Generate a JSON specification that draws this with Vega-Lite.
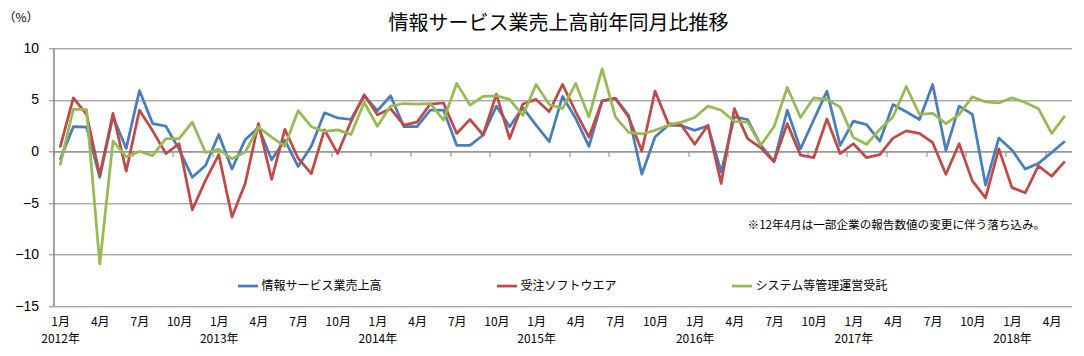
{
  "$schema": "https://vega.github.io/schema/vega-lite/v6.json",
  "width": 1018,
  "height": 258,
  "autosize": "none",
  "padding": {"left": 53.5, "top": 48.3, "right": 12.5, "bottom": 49.7},
  "background": "white",
  "title": {
    "text": "情報サービス業売上高前年同月比推移",
    "font": "Noto Sans CJK JP",
    "fontSize": 20,
    "fontWeight": "normal",
    "color": "#000000",
    "anchor": "middle",
    "dx": -4,
    "dy": 27
  },
  "config": {
    "view": {"stroke": null},
    "legend": {"padding": 0}
  },
  "data": {
    "values": [
      {"月":"2012-01","情報サービス業売上高":-0.8,"受注ソフトウエア":0.4,"システム等管理運営受託":-1.35},
      {"月":"2012-02","情報サービス業売上高":2.4,"受注ソフトウエア":5.2,"システム等管理運営受託":4.1},
      {"月":"2012-03","情報サービス業売上高":2.35,"受注ソフトウエア":3.6,"システム等管理運営受託":4.05},
      {"月":"2012-04","情報サービス業売上高":-2.5,"受注ソフトウエア":-2.3,"システム等管理運営受託":-10.9},
      {"月":"2012-05","情報サービス業売上高":3.4,"受注ソフトウエア":3.7,"システム等管理運営受託":1.0},
      {"月":"2012-06","情報サービス業売上高":0.3,"受注ソフトウエア":-1.9,"システム等管理運営受託":-0.5},
      {"月":"2012-07","情報サービス業売上高":5.9,"受注ソフトウエア":4.0,"システム等管理運営受託":0.0},
      {"月":"2012-08","情報サービス業売上高":2.7,"受注ソフトウエア":2.0,"システム等管理運営受託":-0.4},
      {"月":"2012-09","情報サービス業売上高":2.45,"受注ソフトウエア":-0.2,"システム等管理運営受託":1.25},
      {"月":"2012-10","情報サービス業売上高":0.2,"受注ソフトウエア":0.75,"システム等管理運営受託":1.25},
      {"月":"2012-11","情報サービス業売上高":-2.5,"受注ソフトウエア":-5.65,"システム等管理運営受託":2.85},
      {"月":"2012-12","情報サービス業売上高":-1.35,"受注ソフトウエア":-2.8,"システム等管理運営受託":-0.1},
      {"月":"2013-01","情報サービス業売上高":1.65,"受注ソフトウエア":-0.3,"システム等管理運営受託":0.2},
      {"月":"2013-02","情報サービス業売上高":-1.7,"受注ソフトウエア":-6.35,"システム等管理運営受託":-0.7},
      {"月":"2013-03","情報サービス業売上高":1.15,"受注ソフトウエア":-3.1,"システム等管理運営受託":-0.05},
      {"月":"2013-04","情報サービス業売上高":2.35,"受注ソフトウエア":2.7,"システム等管理運営受託":2.35},
      {"月":"2013-05","情報サービス業売上高":-0.8,"受注ソフトウエア":-2.7,"システム等管理運営受託":1.4},
      {"月":"2013-06","情報サービス業売上高":1.1,"受注ソフトウエア":2.15,"システム等管理運営受託":0.5},
      {"月":"2013-07","情報サービス業売上高":-1.45,"受注ソフトウエア":-0.65,"システム等管理運営受託":3.95},
      {"月":"2013-08","情報サービス業売上高":0.5,"受注ソフトウエア":-2.15,"システム等管理運営受託":2.4},
      {"月":"2013-09","情報サービス業売上高":3.75,"受注ソフトウエア":2.1,"システム等管理運営受託":1.95},
      {"月":"2013-10","情報サービス業売上高":3.25,"受注ソフトウエア":-0.2,"システム等管理運営受託":2.1},
      {"月":"2013-11","情報サービス業売上高":3.1,"受注ソフトウエア":2.9,"システム等管理運営受託":1.65},
      {"月":"2013-12","情報サービス業売上高":5.4,"受注ソフトウエア":5.5,"システム等管理運営受託":4.75},
      {"月":"2014-01","情報サービス業売上高":3.95,"受注ソフトウエア":3.55,"システム等管理運営受託":2.45},
      {"月":"2014-02","情報サービス業売上高":5.4,"受注ソフトウエア":4.15,"システム等管理運営受託":4.4},
      {"月":"2014-03","情報サービス業売上高":2.4,"受注ソフトウエア":2.55,"システム等管理運営受託":4.65},
      {"月":"2014-04","情報サービス業売上高":2.4,"受注ソフトウエア":2.85,"システム等管理運営受託":4.6},
      {"月":"2014-05","情報サービス業売上高":4.0,"受注ソフトウエア":4.6,"システム等管理運営受託":4.65},
      {"月":"2014-06","情報サービス業売上高":4.0,"受注ソフトウエア":4.7,"システム等管理運営受託":3.05},
      {"月":"2014-07","情報サービス業売上高":0.6,"受注ソフトウエア":1.75,"システム等管理運営受託":6.6},
      {"月":"2014-08","情報サービス業売上高":0.6,"受注ソフトウエア":3.1,"システム等管理運営受託":4.5},
      {"月":"2014-09","情報サービス業売上高":1.6,"受注ソフトウエア":1.6,"システム等管理運営受託":5.35},
      {"月":"2014-10","情報サービス業売上高":4.4,"受注ソフトウエア":5.55,"システム等管理運営受託":5.4},
      {"月":"2014-11","情報サービス業売上高":2.4,"受注ソフトウエア":1.25,"システム等管理運営受託":5.05},
      {"月":"2014-12","情報サービス業売上高":4.25,"受注ソフトウエア":4.6,"システム等管理運営受託":3.5},
      {"月":"2015-01","情報サービス業売上高":2.55,"受注ソフトウエア":5.05,"システム等管理運営受託":6.5},
      {"月":"2015-02","情報サービス業売上高":0.95,"受注ソフトウエア":3.85,"システム等管理運営受託":4.55},
      {"月":"2015-03","情報サービス業売上高":5.35,"受注ソフトウエア":6.5,"システム等管理運営受託":4.15},
      {"月":"2015-04","情報サービス業売上高":3.2,"受注ソフトウエア":3.85,"システム等管理運営受託":6.6},
      {"月":"2015-05","情報サービス業売上高":0.5,"受注ソフトウエア":1.4,"システム等管理運営受託":3.35},
      {"月":"2015-06","情報サービス業売上高":4.9,"受注ソフトウエア":4.9,"システム等管理運営受託":8.0},
      {"月":"2015-07","情報サービス業売上高":5.15,"受注ソフトウエア":5.15,"システム等管理運営受託":3.35},
      {"月":"2015-08","情報サービス業売上高":3.5,"受注ソフトウエア":3.35,"システム等管理運営受託":1.85},
      {"月":"2015-09","情報サービス業売上高":-2.2,"受注ソフトウエア":0.05,"システム等管理運営受託":1.7},
      {"月":"2015-10","情報サービス業売上高":1.4,"受注ソフトウエア":5.85,"システム等管理運営受託":2.05},
      {"月":"2015-11","情報サービス業売上高":2.55,"受注ソフトウエア":2.7,"システム等管理運営受託":2.55},
      {"月":"2015-12","情報サービス業売上高":2.5,"受注ソフトウエア":2.55,"システム等管理運営受託":2.85},
      {"月":"2016-01","情報サービス業売上高":2.05,"受注ソフトウエア":0.7,"システム等管理運営受託":3.3},
      {"月":"2016-02","情報サービス業売上高":2.5,"受注ソフトウエア":2.55,"システム等管理運営受託":4.4},
      {"月":"2016-03","情報サービス業売上高":-2.0,"受注ソフトウエア":-3.1,"システム等管理運営受託":4.0},
      {"月":"2016-04","情報サービス業売上高":3.35,"受注ソフトウエア":4.15,"システム等管理運営受託":2.9},
      {"月":"2016-05","情報サービス業売上高":3.1,"受注ソフトウエア":1.25,"システム等管理運営受託":2.85},
      {"月":"2016-06","情報サービス業売上高":0.6,"受注ソフトウエア":0.35,"システム等管理運営受託":0.6},
      {"月":"2016-07","情報サービス業売上高":-0.95,"受注ソフトウエア":-1.0,"システム等管理運営受託":2.4},
      {"月":"2016-08","情報サービス業売上高":4.0,"受注ソフトウエア":2.7,"システム等管理運営受託":6.2},
      {"月":"2016-09","情報サービス業売上高":0.25,"受注ソフトウエア":-0.35,"システム等管理運営受託":3.3},
      {"月":"2016-10","情報サービス業売上高":3.05,"受注ソフトウエア":-0.6,"システム等管理運営受託":5.2},
      {"月":"2016-11","情報サービス業売上高":5.85,"受注ソフトウエア":3.15,"システム等管理運営受託":5.05},
      {"月":"2016-12","情報サービス業売上高":0.6,"受注ソフトウエア":-0.2,"システム等管理運営受託":4.3},
      {"月":"2017-01","情報サービス業売上高":2.95,"受注ソフトウエア":0.75,"システム等管理運営受託":1.35},
      {"月":"2017-02","情報サービス業売上高":2.6,"受注ソフトウエア":-0.6,"システム等管理運営受託":0.7},
      {"月":"2017-03","情報サービス業売上高":1.0,"受注ソフトウエア":-0.3,"システム等管理運営受託":2.15},
      {"月":"2017-04","情報サービス業売上高":4.55,"受注ソフトウエア":1.3,"システム等管理運営受託":3.35},
      {"月":"2017-05","情報サービス業売上高":3.85,"受注ソフトウエア":2.0,"システム等管理運営受託":6.3},
      {"月":"2017-06","情報サービス業売上高":3.1,"受注ソフトウエア":1.75,"システム等管理運営受託":3.6},
      {"月":"2017-07","情報サービス業売上高":6.5,"受注ソフトウエア":0.85,"システム等管理運営受託":3.7},
      {"月":"2017-08","情報サービス業売上高":0.1,"受注ソフトウエア":-2.2,"システム等管理運営受託":2.7},
      {"月":"2017-09","情報サービス業売上高":4.4,"受注ソフトウエア":0.75,"システム等管理運営受託":3.6},
      {"月":"2017-10","情報サービス業売上高":3.6,"受注ソフトウエア":-2.85,"システム等管理運営受託":5.3},
      {"月":"2017-11","情報サービス業売上高":-3.25,"受注ソフトウエア":-4.5,"システム等管理運営受託":4.8},
      {"月":"2017-12","情報サービス業売上高":1.3,"受注ソフトウエア":0.25,"システム等管理運営受託":4.7},
      {"月":"2018-01","情報サービス業売上高":0.15,"受注ソフトウエア":-3.5,"システム等管理運営受託":5.2},
      {"月":"2018-02","情報サービス業売上高":-1.7,"受注ソフトウエア":-4.0,"システム等管理運営受託":4.75},
      {"月":"2018-03","情報サービス業売上高":-1.15,"受注ソフトウエア":-1.4,"システム等管理運営受託":4.15},
      {"月":"2018-04","情報サービス業売上高":-0.1,"受注ソフトウエア":-2.4,"システム等管理運営受託":1.75},
      {"月":"2018-05","情報サービス業売上高":1.0,"受注ソフトウエア":-0.95,"システム等管理運営受託":3.45}
    ]
  },
  "layer": [
    {
      "layer": [
        {
          "transform": [{"fold": ["情報サービス業売上高", "受注ソフトウエア", "システム等管理運営受託"], "as": ["系列", "値"]}],
          "mark": {"type": "line", "strokeWidth": 2.75, "strokeJoin": "round"},
          "encoding": {
            "x": {
              "field": "月", "type": "ordinal",
              "scale": {"type": "point", "padding": 0.5},
              "axis": {
                "orient": "bottom",
                "values": ["2012-01","2012-04","2012-07","2012-10","2013-01","2013-04","2013-07","2013-10","2014-01","2014-04","2014-07","2014-10","2015-01","2015-04","2015-07","2015-10","2016-01","2016-04","2016-07","2016-10","2017-01","2017-04","2017-07","2017-10","2018-01","2018-04"],
                "labelExpr": "slice(datum.value,5)=='01' ? ['1月', slice(datum.value,0,4)+'年'] : toNumber(slice(datum.value,5))+'月'",
                "ticks": false, "domain": false, "grid": false, "title": null,
                "labelAngle": 0, "labelFont": "Noto Sans CJK JP", "labelFontSize": 12,
                "labelColor": "#000000", "labelPadding": 10, "labelLineHeight": 17,
                "labelOverlap": false
              }
            },
            "y": {
              "field": "値", "type": "quantitative",
              "scale": {"domain": [-15, 10], "nice": false, "zero": false},
              "axis": {
                "orient": "left",
                "values": [-15, -10, -5, 0, 5, 10],
                "grid": true, "gridColor": "#868686", "gridWidth": 1,
                "domainColor": "#868686", "domainWidth": 1.5,
                "tickColor": "#868686", "tickSize": 5,
                "labelFont": "Liberation Sans", "labelFontSize": 14, "labelColor": "#000000",
                "labelPadding": 10,
                "title": "（%）", "titleAngle": 0, "titleX": -33, "titleY": -31,
                "titleAlign": "center", "titleBaseline": "middle",
                "titleFont": "Noto Sans CJK JP", "titleFontSize": 12, "titleFontWeight": "normal",
                "titleColor": "#000000"
              }
            },
            "color": {
              "field": "系列", "type": "nominal",
              "scale": {
                "domain": ["情報サービス業売上高", "受注ソフトウエア", "システム等管理運営受託"],
                "range": ["#4A7EBB", "#BE4B48", "#98B954"]
              },
              "legend": {
                "orient": "none", "legendX": 183, "legendY": 226,
                "direction": "horizontal", "title": null,
                "symbolType": "stroke", "symbolStrokeWidth": 2.75, "symbolSize": 400,
                "labelFont": "Noto Sans CJK JP", "labelFontSize": 12, "labelColor": "#000000",
                "labelOffset": 2, "columnPadding": 109
              }
            }
          }
        },
        {
          "data": {"values": [{"注記": "※12年4月は一部企業の報告数値の変更に伴う落ち込み。"}]},
          "mark": {"type": "text", "align": "left", "baseline": "middle", "font": "Noto Sans CJK JP", "fontSize": 11.6, "color": "#000000"},
          "encoding": {
            "x": {
              "datum": "2016-05", "type": "ordinal",
              "axis": {
                "orient": "bottom",
                "values": ["2012-01","2012-04","2012-07","2012-10","2013-01","2013-04","2013-07","2013-10","2014-01","2014-04","2014-07","2014-10","2015-01","2015-04","2015-07","2015-10","2016-01","2016-04","2016-07","2016-10","2017-01","2017-04","2017-07","2017-10","2018-01","2018-04"],
                "labelExpr": "slice(datum.value,5)=='01' ? ['1月', slice(datum.value,0,4)+'年'] : toNumber(slice(datum.value,5))+'月'",
                "ticks": false, "domain": false, "grid": false, "title": null,
                "labelAngle": 0, "labelFont": "Noto Sans CJK JP", "labelFontSize": 12,
                "labelColor": "#000000", "labelPadding": 10, "labelLineHeight": 17,
                "labelOverlap": false
              }
            },
            "y": {
              "datum": -7.2, "type": "quantitative",
              "axis": {
                "orient": "left",
                "values": [-15, -10, -5, 0, 5, 10],
                "grid": true, "gridColor": "#868686", "gridWidth": 1,
                "domainColor": "#868686", "domainWidth": 1.5,
                "tickColor": "#868686", "tickSize": 5,
                "labelFont": "Liberation Sans", "labelFontSize": 14, "labelColor": "#000000",
                "labelPadding": 10,
                "title": "（%）", "titleAngle": 0, "titleX": -33, "titleY": -31,
                "titleAlign": "center", "titleBaseline": "middle",
                "titleFont": "Noto Sans CJK JP", "titleFontSize": 12, "titleFontWeight": "normal",
                "titleColor": "#000000"
              }
            },
            "text": {"field": "注記"}
          }
        }
      ]
    },
    {
      "transform": [{"fold": ["情報サービス業売上高"], "as": ["系列", "値"]}],
      "mark": {"type": "line", "opacity": 0},
      "encoding": {
        "x": {
          "field": "月", "type": "ordinal",
          "scale": {"type": "point", "padding": 0.5},
          "axis": {
            "orient": "bottom",
            "values": ["2012-01","2012-04","2012-07","2012-10","2013-01","2013-04","2013-07","2013-10","2014-01","2014-04","2014-07","2014-10","2015-01","2015-04","2015-07","2015-10","2016-01","2016-04","2016-07","2016-10","2017-01","2017-04","2017-07","2017-10","2018-01","2018-04"],
            "labels": false, "ticks": true, "tickSize": 5, "tickOffset": -6.61,
            "tickColor": "#868686", "domain": true, "domainColor": "#868686",
            "grid": false, "title": null, "offset": -154.8
          }
        },
        "y": {
          "field": "値", "type": "quantitative",
          "scale": {"domain": [-15, 10], "nice": false, "zero": false},
          "axis": {
            "orient": "left",
            "values": [-15, -10, -5, 0, 5, 10],
            "grid": true, "gridColor": "#868686", "gridWidth": 1,
            "domainColor": "#868686", "domainWidth": 1.5,
            "tickColor": "#868686", "tickSize": 5,
            "labelFont": "Liberation Sans", "labelFontSize": 14, "labelColor": "#000000",
            "labelPadding": 10,
            "title": "（%）", "titleAngle": 0, "titleX": -33, "titleY": -31,
            "titleAlign": "center", "titleBaseline": "middle",
            "titleFont": "Noto Sans CJK JP", "titleFontSize": 12, "titleFontWeight": "normal",
            "titleColor": "#000000"
          }
        }
      }
    }
  ],
  "resolve": {"axis": {"x": "independent"}}
}
